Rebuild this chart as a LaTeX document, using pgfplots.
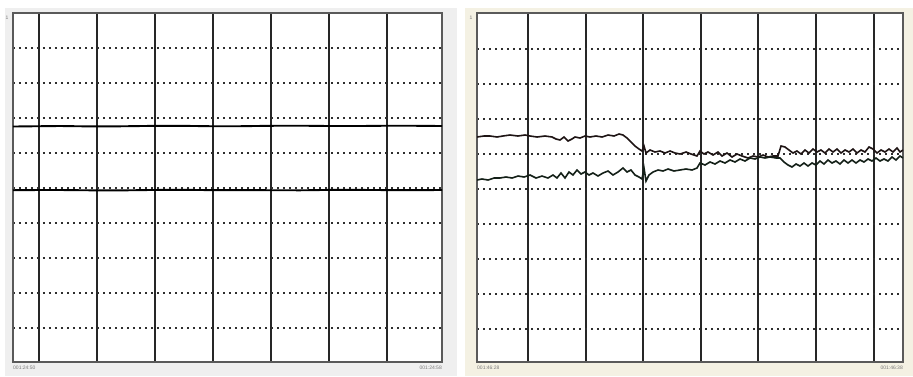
\documentclass[border=0pt]{standalone}
\usepackage{pgfplots}
\pgfplotsset{compat=1.18}
\usepackage{fontspec}
\setmainfont{Liberation Sans}
\definecolor{panelgray}{HTML}{EFEFEF}
\definecolor{panelbeige}{HTML}{F4F1E3}
\definecolor{framegray}{HTML}{5A5A5A}
\definecolor{dotgray}{HTML}{2E2E2E}
\definecolor{labgray}{HTML}{7A7A7A}
\definecolor{traceA}{HTML}{1E1414}
\definecolor{traceB}{HTML}{142018}
\pgfplotsset{
  panel/.style={
    scale only axis, height=349pt,
    ymin=13, ymax=362, y dir=reverse,
    axis background/.style={fill=white},
    axis line style={framegray, line width=1.3pt},
    xticklabels={}, yticklabels={},
    major tick length=0pt,
    xmajorgrids, ymajorgrids,
    x grid style={black!85, line width=1.6pt},
    y grid style={dotgray, line width=1.7pt, dash pattern=on 1.7pt off 4.3pt},
    clip=true,
  },
}
\begin{document}
\begin{tikzpicture}
\path (0pt,0pt) rectangle (913pt,-376pt);
\fill[panelgray] (5pt,-8pt) rectangle (457pt,-376pt);
\fill[panelbeige] (465pt,-8pt) rectangle (913pt,-376pt);
% left panel
\begin{axis}[panel, at={(13pt,-362pt)}, anchor=south west, width=429pt,
  xmin=13, xmax=442,
  xtick={39,97,155,213,271,329,387},
  ytick={48,83,118,153,188,223,258,293,328}]
\addplot[black, line width=1.9pt] coordinates {
(13,126.5) (40,126.2) (60,126.0) (90,126.4) (120,126.3) (150,125.9) (180,125.8) (210,126.2) (240,126.2) (270,125.8) (300,125.7) (330,126.0) (360,126.0) (390,125.7) (420,125.8) (442,126.0)};
\addplot[black, line width=1.9pt] coordinates {
(13,190.2) (40,190.0) (60,190.0) (90,190.3) (120,190.4) (150,190.0) (180,189.8) (210,190.1) (240,190.1) (270,190.2) (300,190.3) (330,189.9) (360,189.9) (390,190.1) (420,190.1) (442,190.0)};
\end{axis}
% right panel
\begin{axis}[panel, at={(477pt,-362pt)}, anchor=south west, width=426pt,
  xmin=477, xmax=903,
  xtick={528,586,643,701,758,816,874},
  ytick={49,84,119,154,189,224,259,294,329}]
\addplot[traceA, line width=1.6pt] coordinates {
(477,137) (484,136) (490,136) (497,137) (503,136) (510,135) (518,136) (525,135) (530,136) (537,137) (545,136) (552,137) (556,139) (560,140) (564,137) (568,141) (572,139) (575,137) (580,138) (585,136) (590,137) (596,136) (602,137) (608,135) (614,136) (619,134) (623,135) (627,138) (631,142) (635,146) (639,149) (642,151) (644,146) (646,153) (650,150) (655,152) (660,151) (665,153) (670,151) (675,153) (680,154) (686,152) (691,154) (697,156) (700,151) (704,154) (708,152) (713,155) (718,152) (722,156) (727,153) (732,157) (737,154) (742,156) (748,158) (753,156) (758,157) (763,155) (768,157) (773,156) (778,156) (781,146) (785,147) (789,150) (793,153) (797,151) (801,154) (805,150) (809,153) (813,149) (817,152) (821,150) (825,153) (829,149) (833,152) (837,149) (841,153) (845,150) (849,152) (853,149) (857,153) (861,150) (865,152) (869,147) (873,149) (877,153) (881,150) (885,152) (889,149) (893,152) (897,148) (900,152) (903,150)};
\addplot[traceB, line width=1.6pt] coordinates {
(477,180) (482,179) (488,180) (494,178) (500,178) (506,177) (512,178) (518,176) (524,177) (530,175) (536,178) (542,176) (548,178) (553,175) (557,178) (561,173) (565,178) (569,172) (573,175) (577,170) (581,174) (585,172) (589,175) (593,173) (598,176) (603,173) (608,171) (613,175) (618,172) (623,168) (627,172) (631,170) (635,175) (639,177) (642,179) (644,168) (646,181) (649,175) (653,172) (658,170) (663,171) (668,169) (674,171) (680,170) (686,169) (692,170) (697,168) (700,163) (705,165) (710,162) (715,164) (720,161) (725,163) (730,160) (735,162) (740,159) (745,161) (750,158) (755,159) (760,157) (765,158) (770,157) (776,158) (780,158) (784,162) (788,165) (792,167) (796,164) (800,166) (804,163) (808,166) (812,163) (816,165) (820,161) (824,164) (828,160) (832,163) (836,161) (840,164) (844,160) (848,163) (852,160) (856,163) (860,160) (864,162) (868,159) (872,161) (876,158) (880,161) (884,159) (888,161) (892,157) (896,160) (900,156) (903,158)};
\end{axis}
% small labels
\begin{scope}[font=\fontsize{5}{6}\selectfont, text=labgray]
\node[anchor=west, inner sep=0pt] at (13pt,-368pt) {001:24:50};
\node[anchor=east, inner sep=0pt] at (442pt,-368pt) {001:24:58};
\node[anchor=west, inner sep=0pt] at (477pt,-368pt) {001:46:28};
\node[anchor=east, inner sep=0pt] at (903pt,-368pt) {001:46:38};
\node[inner sep=0pt] at (7pt,-18pt) {1};
\node[inner sep=0pt] at (471pt,-18pt) {1};
\end{scope}
\end{tikzpicture}
\end{document}
